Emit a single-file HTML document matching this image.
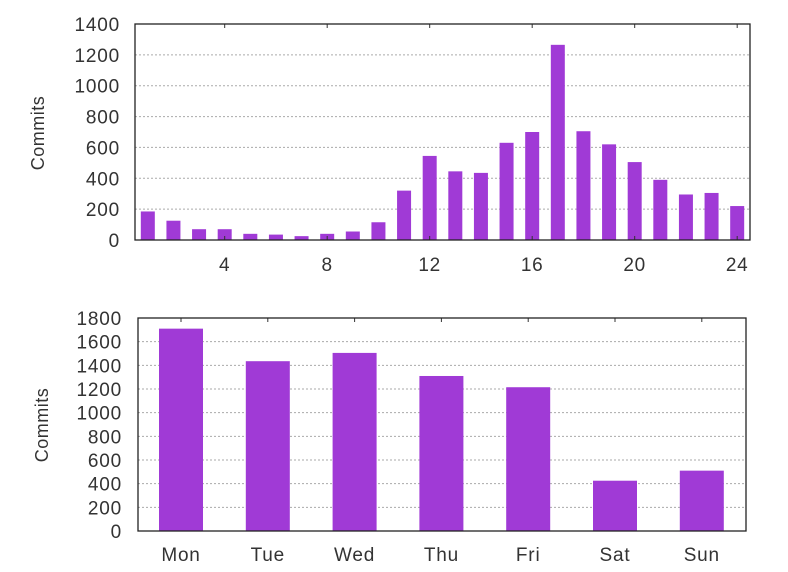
<!DOCTYPE html>
<html><head><meta charset="utf-8"><style>body{margin:0;background:#fff}svg{display:block}text{font-family:"Liberation Sans",sans-serif;fill:#333}</style></head>
<body>
<svg id="s" width="788" height="572" xmlns="http://www.w3.org/2000/svg"></svg>
<script>
const s=document.getElementById('s');let h='';
const C='#a03ad6';const F='font-size="19" letter-spacing="0.8"';
// top chart
{const L=135,R=750,T=24,B=240;const py=v=>B-v*(B-T)/1400;const px=x=>L+(x-0.5)*(R-L)/24;
for(let v=0;v<=1400;v+=200){const y=py(v);if(v>0&&v<1400)h+=`<line x1="${L}" x2="${R}" y1="${y}" y2="${y}" stroke="#aaa" stroke-dasharray="2,2"/>`;h+=`<text x="120" y="${y+7}" ${F} text-anchor="end">${v}</text>`;}
const d=[185,125,70,70,40,35,25,40,55,115,320,545,445,435,630,700,1265,705,620,505,390,295,305,220];
d.forEach((v,i)=>{const c=px(i+1);h+=`<rect x="${c-7}" y="${py(v)}" width="14" height="${B-py(v)}" fill="${C}"/>`;});
[4,8,12,16,20,24].forEach(t=>{const x=px(t);h+=`<text x="${x}" y="271" ${F} text-anchor="middle">${t}</text><line x1="${x}" x2="${x}" y1="${T}" y2="${T+4}" stroke="#333"/><line x1="${x}" x2="${x}" y1="${B}" y2="${B-4}" stroke="#333"/>`;});
h+=`<rect x="${L}" y="${T}" width="${R-L}" height="${B-T}" fill="none" stroke="#222" stroke-width="1.3"/>`;
h+=`<text transform="translate(44,133) rotate(-90)" font-size="18" letter-spacing="0.5" text-anchor="middle">Commits</text>`;}
// bottom chart
{const L=138,R=746,T=318,B=531;const py=v=>B-v*(B-T)/1800;
for(let v=0;v<=1800;v+=200){const y=py(v);if(v>0&&v<1800)h+=`<line x1="${L}" x2="${R}" y1="${y}" y2="${y}" stroke="#aaa" stroke-dasharray="2,2"/>`;h+=`<text x="122" y="${y+7}" ${F} text-anchor="end">${v}</text>`;}
const d=[1710,1435,1505,1310,1215,425,510],n=['Mon','Tue','Wed','Thu','Fri','Sat','Sun'];
d.forEach((v,i)=>{const c=181+i*86.8;h+=`<rect x="${c-22}" y="${py(v)}" width="44" height="${B-py(v)}" fill="${C}"/><text x="${c}" y="561" ${F} text-anchor="middle">${n[i]}</text><line x1="${c}" x2="${c}" y1="${T}" y2="${T+4}" stroke="#333"/>`;});
h+=`<rect x="${L}" y="${T}" width="${R-L}" height="${B-T}" fill="none" stroke="#222" stroke-width="1.3"/>`;
h+=`<text transform="translate(48,425) rotate(-90)" font-size="18" letter-spacing="0.5" text-anchor="middle">Commits</text>`;}
s.innerHTML=h;
</script>
</body></html>
